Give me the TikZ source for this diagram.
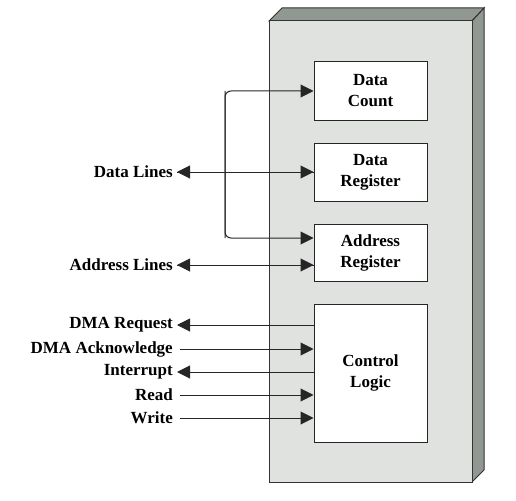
\documentclass[tikz,border=0pt]{standalone}
\usepackage{fontspec}
\setmainfont{Liberation Serif}
\usetikzlibrary{arrows.meta}

\definecolor{faceGrey}{RGB}{223,226,223}
\definecolor{sideGrey}{RGB}{145,151,145}

\begin{document}
\begin{tikzpicture}[x=1pt, y=-1pt,
                    reg_style/.style={draw=black!85, line width=1pt, fill=white, minimum width=113pt,
                                      align=center, font=\fontsize{17}{21}\selectfont\bfseries},
                    lbl_style/.style={anchor=east, inner sep=4pt, font=\fontsize{17}{21}\selectfont\bfseries},
                    line_style/.style={draw=black!85, line width=1pt},
                    tip/.style={-{Triangle[length=13pt,width=13pt]}}]
                    \useasboundingbox (0,0) rectangle (516,500);
                    % module box
                    \filldraw[fill=sideGrey, draw=black!80, line width=1pt] (269,21) -- (282,8) -- (484,8) -- (472,21) -- cycle;
                    \filldraw[fill=sideGrey, draw=black!80, line width=1pt] (472,21) -- (484,8) -- (484,470) -- (472,482) -- cycle;
                    \filldraw[fill=faceGrey, draw=black!80, line width=1pt] (269,21) rectangle (472,482);
                    % registers
                    \node[reg_style, minimum height=58pt] (dcount) at (370.5,91) {Data\\Count};
                    \node[reg_style, minimum height=58pt] (dreg) at (370.5,172) {Data\\Register};
                    \node[reg_style, minimum height=57pt] (areg) at (370.5,252.5) {Address\\Register};
                    \node[reg_style, minimum height=138pt] (ctrl) at (370.5,373) {Control\\Logic};
                    % labels
                    \node[lbl_style] (dlines) at (177,172) {Data Lines};
                    \node[lbl_style] (alines) at (177,265) {Address Lines};
                    \node[lbl_style] (dreq) at (177,325) {DMA Request};
                    \node[lbl_style] (dack) at (177,349) {DMA Acknowledge};
                    \node[lbl_style] (intr) at (177,372) {Interrupt};
                    \node[lbl_style] (rd) at (177,395) {Read};
                    \node[lbl_style] (wr) at (177,418) {Write};
                    % internal bus
                    \coordinate (bustop) at (225,91);
                    \coordinate (busbot) at (225,238);
                    \draw[line_style, tip, rounded corners=6pt] (busbot) -- (bustop) -- (dcount.west);
                    \draw[line_style, tip, rounded corners=6pt] (bustop) -- (busbot) -- (areg.west |- busbot);
                    % external lines
                    \draw[line_style, tip] (dlines.east) -- (dreg.west);
                    \draw[line_style, tip] (dreg.west) -- (dlines.east);
                    \draw[line_style, tip] (alines.east) -- (areg.west |- alines.east);
                    \draw[line_style, tip] (areg.west |- alines.east) -- (alines.east);
                    \draw[line_style, tip] (ctrl.west |- dreq.east) -- (dreq.east);
                    \draw[line_style, tip] ([xshift=3pt]dack.east) -- (ctrl.west |- dack.east);
                    \draw[line_style, tip] (ctrl.west |- intr.east) -- (intr.east);
                    \draw[line_style, tip] ([xshift=3pt]rd.east) -- (ctrl.west |- rd.east);
                    \draw[line_style, tip] ([xshift=3pt]wr.east) -- (ctrl.west |- wr.east);
                \end{tikzpicture}
\end{document}
